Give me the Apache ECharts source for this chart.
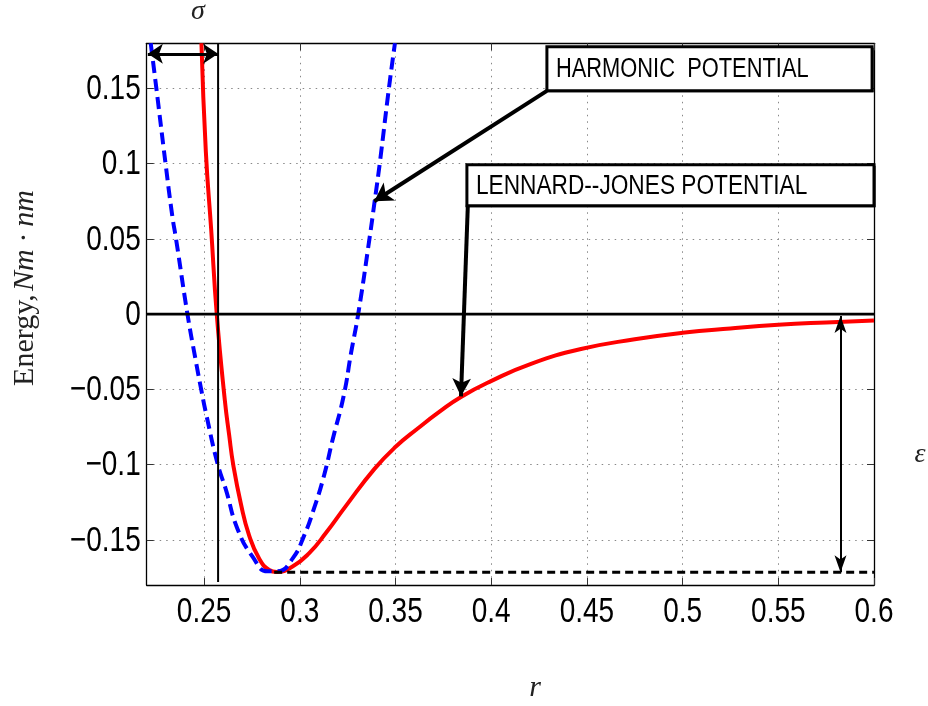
<!DOCTYPE html>
<html><head><meta charset="utf-8">
<script src="https://cdn.jsdelivr.net/npm/echarts@6/dist/echarts.min.js"></script>
<style>html,body{margin:0;padding:0;background:#fff}#c{width:928px;height:706px}</style>
</head><body><div id="c"></div>
<script>
// tick values
const xTicks = [0.25, 0.3, 0.35, 0.4, 0.45, 0.5, 0.55, 0.6];
const yTicks = [-0.15, -0.1, -0.05, 0, 0.05, 0.1, 0.15];
// Lennard-Jones potential
const ljR = [0.2486, 0.2509, 0.2537, 0.2566, 0.2608, 0.2631, 0.2652, 0.2692, 0.2735, 0.2788, 0.2840, 0.2880, 0.2962, 0.3049, 0.3136, 0.3241, 0.3389, 0.3502, 0.3616, 0.3730, 0.3842, 0.3999, 0.4208, 0.4469, 0.475, 0.50, 0.525, 0.55, 0.575, 0.60];
const ljE = [0.180, 0.108, 0.056, 0, -0.0570, -0.0805, -0.1000, -0.126, -0.147, -0.1625, -0.1700, -0.1713, -0.1677, -0.1588, -0.1455, -0.1274, -0.1030, -0.0880, -0.0760, -0.0648, -0.0550, -0.0445, -0.0330, -0.0232, -0.0167, -0.0124, -0.0095, -0.0071, -0.0055, -0.0042];
// Harmonic potential
const hR = [0.2221, 0.2250, 0.2298, 0.2334, 0.2353, 0.2413, 0.2455, 0.2488, 0.2509, 0.2570, 0.2613, 0.2675, 0.2753, 0.2831, 0.2884, 0.2962, 0.3023, 0.3073, 0.3126, 0.3172, 0.3229, 0.3268, 0.3305, 0.3364, 0.3391, 0.3418, 0.3466, 0.3497];
const hE = [0.180, 0.1506, 0.1005, 0.065, 0.0502, 0, -0.030, -0.0522, -0.0654, -0.0993, -0.1163, -0.1429, -0.1612, -0.1709, -0.1709, -0.1625, -0.1470, -0.1296, -0.1075, -0.0831, -0.0544, -0.0256, 0, 0.0502, 0.075, 0.1005, 0.1506, 0.180];
// reference lines
const zeroR = [0.22, 0.6], zeroE = [0, 0];
const sigmaR = [0.2573, 0.2573], sigmaE = [0.18, -0.178];
const epsR = [0.2866, 0.6], epsE = [-0.1716, -0.1716];
// arrows [from, to]
const sigmaArrow = [[0.2206, 0.173], [0.2573, 0.173]];
const epsArrow = [[0.5825, -0.0013], [0.5825, -0.1716]];
const harmArrow = [[0.4291, 0.1484], [0.3389, 0.075]];
const ljArrow = [[0.3878, 0.0728], [0.3842, -0.0546]];
// annotation boxes [r-left, E-top, r-right, E-bottom]
const harmBox = [0.4291, 0.1777, 0.5990, 0.1484];
const ljBox = [0.3873, 0.0993, 0.6000, 0.0721];
const harmText = 'HARMONIC  POTENTIAL';
const ljText = 'LENNARD--JONES POTENTIAL';

const zip = (a, b) => a.map((v, i) => [v, b[i]]);
const sans = "'Liberation Sans',Arial,sans-serif";
const serif = "'Liberation Serif','DejaVu Serif',serif";
const fmt = v => String(v).replace('-', '\u2212');
const NARROW = 0.8;

const chart = echarts.init(document.getElementById('c'), null, {renderer: 'canvas'});
const axCommon = {
  axisLine: {show: true, onZero: false, lineStyle: {color: '#000', width: 1.3}},
  axisTick: {show: true, inside: true, length: 7, lineStyle: {color: '#333', width: 1}},
};
function arrowSeries(name, a, lw, headSize) {
  return {
    name, type: 'line', data: [], silent: true,
    markLine: {
      silent: true, animation: false,
      label: {show: false},
      lineStyle: {color: '#000', width: lw, type: 'solid'},
      emphasis: {disabled: true},
      data: [[{coord: a[0], symbol: headSize[0] ? 'arrow' : 'none', symbolSize: headSize[0] || 1},
              {coord: a[1], symbol: 'arrow', symbolSize: headSize[1]}]]
    }
  };
}
chart.setOption({
  animation: false,
  grid: {left: 146.7, right: 54, top: 43.3, bottom: 121, containLabel: false},
  xAxis: [
    Object.assign({}, axCommon, {type: 'value', min: 0.22, max: 0.6, position: 'bottom',
      axisTick: Object.assign({}, axCommon.axisTick, {customValues: xTicks}),
      axisLabel: {show: false, customValues: xTicks},
      splitLine: {show: true, lineStyle: {color: '#888', width: 1, type: [1.5, 5]}}}),
    Object.assign({}, axCommon, {type: 'value', min: 0.22, max: 0.6, position: 'top',
      axisTick: Object.assign({}, axCommon.axisTick, {customValues: xTicks}),
      axisLabel: {show: false}, splitLine: {show: false}})
  ],
  yAxis: [
    Object.assign({}, axCommon, {type: 'value', min: -0.18, max: 0.18, position: 'left',
      axisTick: Object.assign({}, axCommon.axisTick, {customValues: yTicks}),
      axisLabel: {show: false, customValues: yTicks},
      splitLine: {show: true, lineStyle: {color: '#888', width: 1, type: [1.5, 5]}}}),
    Object.assign({}, axCommon, {type: 'value', min: -0.18, max: 0.18, position: 'right',
      axisTick: Object.assign({}, axCommon.axisTick, {customValues: yTicks}),
      axisLabel: {show: false}, splitLine: {show: false}})
  ],
  series: [
    {name: 'LJ', type: 'line', data: zip(ljR, ljE), showSymbol: false, smooth: true,
     lineStyle: {color: '#ff0000', width: 4}, z: 3},
    {name: 'Harmonic', type: 'line', data: zip(hR, hE), showSymbol: false, smooth: true,
     lineStyle: {color: '#0000ff', width: 4, type: [12, 6]}, z: 4},
    {name: 'zero', type: 'line', data: zip(zeroR, zeroE), showSymbol: false, lineStyle: {color: '#000', width: 2.8}, z: 5},
    {name: 'sigma', type: 'line', data: zip(sigmaR, sigmaE), showSymbol: false, lineStyle: {color: '#000', width: 2}, z: 5},
    {name: 'eps', type: 'line', data: zip(epsR, epsE), showSymbol: false, lineStyle: {color: '#000', width: 3, type: [8, 5]}, z: 5},
    arrowSeries('sigmaArrow', sigmaArrow, 3, [[15, 15], [15, 15]]),
    arrowSeries('epsArrow', epsArrow, 2, [[9, 17], [9, 17]]),
    arrowSeries('harmArrow', harmArrow, 4, [0, [16, 18]]),
    arrowSeries('ljArrow', ljArrow, 4, [0, [14, 18]])
  ]
});

function boxGraphic(b, text, id, sx) {
  const p1 = chart.convertToPixel({gridIndex: 0}, [b[0], b[1]]);
  const p2 = chart.convertToPixel({gridIndex: 0}, [b[2], b[3]]);
  return [
    {type: 'rect', id: id + 'r', z: 20, shape: {x: p1[0], y: p1[1], width: p2[0] - p1[0], height: p2[1] - p1[1]},
     style: {fill: '#fff', stroke: '#000', lineWidth: 3}},
    {type: 'polyline', id: id + 's', z: 20, shape: {points: [[p2[0] + 0.5, p1[1] + 1], [p2[0] + 0.5, p2[1] + 0.5], [p1[0] + 1, p2[1] + 0.5]]},
     style: {stroke: '#000', lineWidth: 2, fill: null}},
    {type: 'text', id: id + 't', z: 21, x: p1[0] + 9, y: (p1[1] + p2[1]) / 2 + 1, scaleX: sx,
     style: {text, fontFamily: sans, fontSize: 27, fill: '#000', align: 'left', verticalAlign: 'middle'}}
  ];
}
function tickLabels() {
  const out = [];
  xTicks.forEach(v => {
    const p = chart.convertToPixel({xAxisIndex: 0, yAxisIndex: 0}, [v, -0.18]);
    out.push({type: 'text', z: 21, x: p[0], y: p[1] + 27, scaleX: NARROW,
      style: {text: fmt(v), fontFamily: sans, fontSize: 35, fill: '#000', align: 'center', verticalAlign: 'middle'}});
  });
  yTicks.forEach(v => {
    const p = chart.convertToPixel({xAxisIndex: 0, yAxisIndex: 0}, [0.22, v]);
    out.push({type: 'text', z: 21, x: p[0] - 6, y: p[1] + 1, scaleX: NARROW,
      style: {text: fmt(v), fontFamily: sans, fontSize: 35, fill: '#000', align: 'right', verticalAlign: 'middle'}});
  });
  return out;
}
chart.setOption({
  graphic: [].concat(
    boxGraphic(harmBox, harmText, 'h', 0.81),
    boxGraphic(ljBox, ljText, 'l', 0.84),
    tickLabels(),
    [
      {type: 'text', z: 21, x: 198, y: 12, style: {text: 'σ', fontFamily: serif, fontStyle: 'italic', fontSize: 28, fill: '#222', align: 'center', verticalAlign: 'middle'}},
      {type: 'text', z: 21, x: 920, y: 455, style: {text: 'ε', fontFamily: serif, fontStyle: 'italic', fontSize: 28, fill: '#222', align: 'center', verticalAlign: 'middle'}},
      {type: 'text', z: 21, x: 535, y: 688, style: {text: 'r', fontFamily: serif, fontStyle: 'italic', fontSize: 30, fill: '#222', align: 'center', verticalAlign: 'middle'}},
      {type: 'text', z: 21, x: 25, y: 288, rotation: Math.PI / 2,
       style: {text: '{a|Energy,} {b|Nm · nm}', align: 'center', verticalAlign: 'middle', fill: '#222',
         rich: {a: {fontFamily: serif, fontSize: 30, fill: '#222'}, b: {fontFamily: serif, fontStyle: 'italic', fontSize: 30, fill: '#222'}}}}
    ]
  )
});
</script></body></html>
